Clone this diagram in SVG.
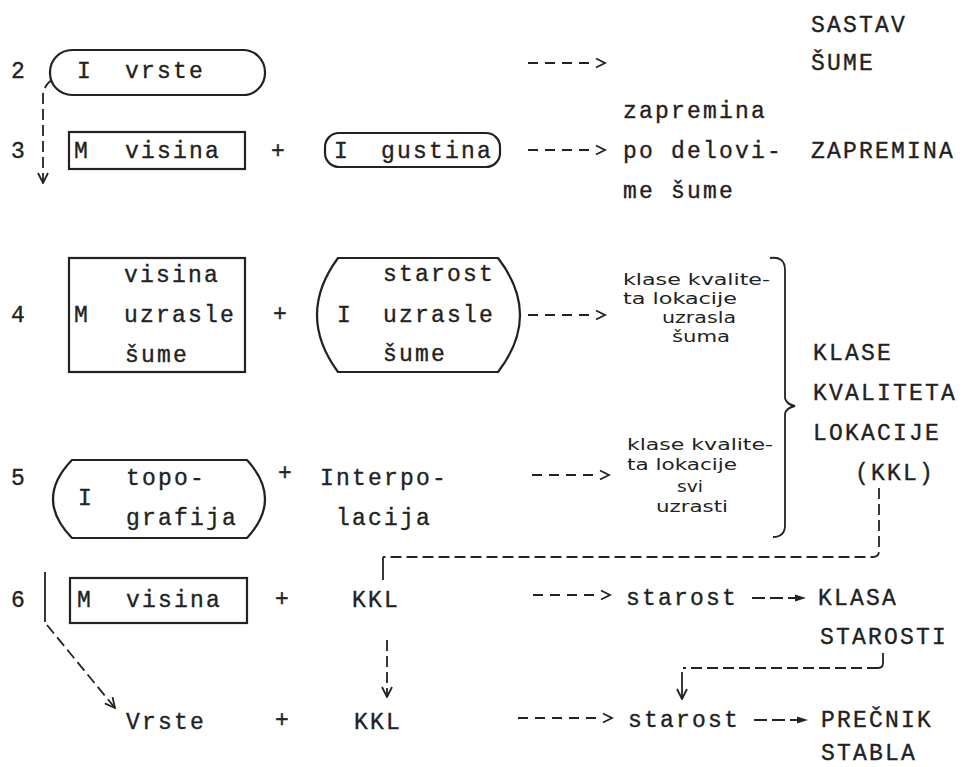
<svg xmlns="http://www.w3.org/2000/svg" xmlns:xlink="http://www.w3.org/1999/xlink" width="965" height="767" viewBox="0 0 965 767">
<style>
.tw{font-family:"Liberation Mono","DejaVu Sans Mono",monospace;font-size:23px;letter-spacing:2.2px;fill:#222;stroke:#222;stroke-width:0.35}
.hw{font-family:"DejaVu Sans","Noto Sans",sans-serif;font-size:16px;fill:#222}
.box{fill:none;stroke:#222;stroke-width:2.2}
.dash{fill:none;stroke:#222;stroke-width:1.8;stroke-dasharray:11 5}
.solid{fill:none;stroke:#222;stroke-width:1.8}
</style>
<defs>
<marker id="v" viewBox="0 0 12 12" refX="11" refY="6" markerWidth="12" markerHeight="12" markerUnits="userSpaceOnUse" orient="auto"><path d="M1,1 L11,6 L1,11" fill="none" stroke="#222" stroke-width="1.8"/></marker>
<g id="ta4"><line x1="3" y1="0" x2="64" y2="0" stroke="#222" stroke-width="2" stroke-dasharray="10 7"/><path d="M71,-4.5 L80,0 L71,4.5" fill="none" stroke="#222" stroke-width="1.8"/></g>
<g id="ta5"><line x1="3" y1="0" x2="81" y2="0" stroke="#222" stroke-width="2" stroke-dasharray="10 7"/><path d="M88,-4.5 L97,0 L88,4.5" fill="none" stroke="#222" stroke-width="1.8"/></g>
<g id="fa"><line x1="0" y1="0" x2="44" y2="0" stroke="#222" stroke-width="2" stroke-dasharray="13 5"/><path d="M43,-3.5 L54,0 L43,3.5 Z" fill="#222"/></g>
</defs>
<rect width="965" height="767" fill="#fff"/>

<g id="row-labels">
<text class="tw" x="11" y="78">2</text>
<text class="tw" x="11" y="158">3</text>
<text class="tw" x="11" y="322">4</text>
<text class="tw" x="11" y="485">5</text>
<text class="tw" x="11" y="607">6</text>
</g>

<g id="n-vrste">
<rect class="box" x="50" y="50" width="215" height="45" rx="22" ry="22"/>
<text class="tw" x="77" y="78">I</text>
<text class="tw" x="125" y="78">vrste</text>
</g>

<g id="n-sastav">
<text class="tw" x="811" y="32">SASTAV</text>
<text class="tw" x="811" y="70">ŠUME</text>
</g>

<g id="n-visina3">
<rect class="box" x="69" y="132" width="176" height="37"/>
<text class="tw" x="74" y="158">M</text>
<text class="tw" x="125" y="158">visina</text>
</g>
<text class="tw" x="271" y="158">+</text>
<g id="n-gustina">
<rect class="box" x="325" y="133" width="175" height="34" rx="14" ry="14"/>
<text class="tw" x="334" y="158">I</text>
<text class="tw" x="381" y="158">gustina</text>
</g>
<g id="n-zapremina-delovi">
<text class="tw" x="623" y="118">zapremina</text>
<text class="tw" x="623" y="158">po delovi-</text>
<text class="tw" x="623" y="198">me šume</text>
</g>
<g id="n-zapremina">
<text class="tw" x="811" y="158">ZAPREMINA</text>
</g>

<g id="n-visina4">
<rect class="box" x="69" y="258" width="176" height="114"/>
<text class="tw" x="74" y="322">M</text>
<text class="tw" x="124" y="282">visina</text>
<text class="tw" x="124" y="322">uzrasle</text>
<text class="tw" x="125" y="362">šume</text>
</g>
<text class="tw" x="273" y="321">+</text>
<g id="n-starost4">
<path class="box" d="M338,258 L498,258 Q542,315 498,372 L338,372 Q296,315 338,258 Z"/>
<text class="tw" x="337" y="322">I</text>
<text class="tw" x="383" y="281">starost</text>
<text class="tw" x="383" y="322">uzrasle</text>
<text class="tw" x="383" y="361">šume</text>
</g>
<g id="n-kkl-uzrasla">
<text class="hw" x="623" y="285" textLength="147" lengthAdjust="spacingAndGlyphs">klase kvalite-</text>
<text class="hw" x="623" y="304" textLength="114" lengthAdjust="spacingAndGlyphs">ta lokacije</text>
<text class="hw" x="662" y="323" textLength="74" lengthAdjust="spacingAndGlyphs">uzrasla</text>
<text class="hw" x="672" y="342" textLength="58" lengthAdjust="spacingAndGlyphs">šuma</text>
</g>

<g id="n-topografija">
<path class="box" d="M72,460 L247,460 Q283,499 247,538 L72,538 Q34,499 72,460 Z"/>
<text class="tw" x="78" y="505">I</text>
<text class="tw" x="126" y="485">topo-</text>
<text class="tw" x="126" y="525">grafija</text>
</g>
<text class="tw" x="278" y="480">+</text>
<g id="n-interpolacija">
<text class="tw" x="320" y="485">Interpo-</text>
<text class="tw" x="336" y="525">lacija</text>
</g>
<g id="n-kkl-svi">
<text class="hw" x="627" y="450" textLength="146" lengthAdjust="spacingAndGlyphs">klase kvalite-</text>
<text class="hw" x="627" y="470" textLength="110" lengthAdjust="spacingAndGlyphs">ta lokacije</text>
<text class="hw" x="677" y="492" textLength="26" lengthAdjust="spacingAndGlyphs">svi</text>
<text class="hw" x="656" y="512" textLength="72" lengthAdjust="spacingAndGlyphs">uzrasti</text>
</g>

<g id="n-brace">
<path class="solid" stroke-width="2" d="M770,258 Q785,256 785,270 L785,398 Q786,404 795,406 Q786,408 785,414 L785,525 Q785,537 773,537"/>
</g>
<g id="n-klase">
<text class="tw" x="813" y="360">KLASE</text>
<text class="tw" x="813" y="400">KVALITETA</text>
<text class="tw" x="813" y="440">LOKACIJE</text>
<text class="tw" x="855" y="480">(KKL)</text>
</g>

<g id="n-visina6">
<rect class="box" x="70" y="578" width="177" height="45"/>
<text class="tw" x="77" y="607">M</text>
<text class="tw" x="126" y="607">visina</text>
</g>
<text class="tw" x="275" y="606">+</text>
<g id="n-kkl6"><text class="tw" x="352" y="607">KKL</text></g>
<g id="n-starost6"><text class="tw" x="626" y="605">starost</text></g>
<g id="n-klasa-starosti">
<text class="tw" x="818" y="605">KLASA</text>
<text class="tw" x="820" y="644">STAROSTI</text>
</g>

<g id="n-vrste7"><text class="tw" x="126" y="729">Vrste</text></g>
<text class="tw" x="275" y="727">+</text>
<g id="n-kkl7"><text class="tw" x="354" y="729">KKL</text></g>
<g id="n-starost7"><text class="tw" x="628" y="727">starost</text></g>
<g id="n-precnik">
<text class="tw" x="821" y="727">PREČNIK</text>
<text class="tw" x="821" y="760">STABLA</text>
</g>

<g id="connectors">
<use xlink:href="#ta4" x="525" y="63"/>
<use xlink:href="#ta4" x="525" y="150"/>
<use xlink:href="#ta4" x="525" y="315"/>
<use xlink:href="#ta4" x="529" y="475"/>
<use xlink:href="#ta4" x="530" y="595"/>
<use xlink:href="#ta5" x="515" y="718"/>
<use xlink:href="#fa" x="752" y="598"/>
<use xlink:href="#fa" x="754" y="720"/>
<path class="dash" d="M52,80 Q45,84 43,94 L43,183" marker-end="url(#v)"/>
<path class="solid" d="M45,572 L45,622"/>
<path class="dash" stroke-dasharray="14 6" d="M47,625 L115,708" marker-end="url(#v)"/>
<path class="dash" d="M387,640 L387,697" marker-end="url(#v)"/>
<path class="dash" stroke-dasharray="14 6" d="M879,488 L879,551 Q879,557 873,557 L383,557"/>
<path class="solid" d="M383,557 L383,580"/>
<path class="solid" d="M883,653 L883,663 Q883,668 878,668"/>
<path class="dash" stroke-dasharray="14 6" d="M878,668 L683,668"/>
<path class="solid" d="M682,672 L682,699" marker-end="url(#v)"/>
</g>
</svg>
